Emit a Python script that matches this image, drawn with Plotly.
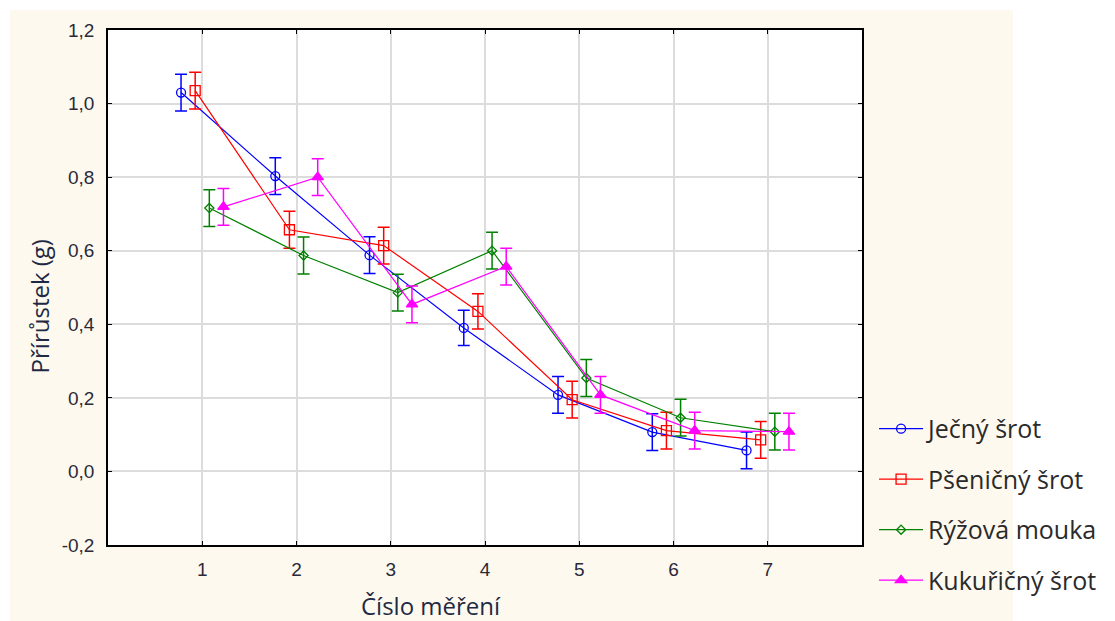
import plotly.graph_objects as go

measurements = [1, 2, 3, 4, 5, 6, 7]
series_names = ["Ječný šrot", "Pšeničný šrot", "Rýžová mouka", "Kukuřičný šrot"]

jecny = [1.03, 0.803, 0.588, 0.39, 0.208, 0.107, 0.057]
psenicny = [1.035, 0.657, 0.614, 0.435, 0.195, 0.111, 0.086]
ryzova = [0.716, 0.587, 0.486, 0.600, 0.254, 0.146, 0.108]
kukuricny = [0.719, 0.800, 0.454, 0.557, 0.208, 0.111, 0.108]

jecny_err = [0.05, 0.05, 0.05, 0.048, 0.05, 0.05, 0.05]
psenicny_err = [0.05, 0.05, 0.05, 0.048, 0.05, 0.05, 0.05]
ryzova_err = [0.05, 0.05, 0.05, 0.05, 0.05, 0.05, 0.05]
kukuricny_err = [0.05, 0.05, 0.05, 0.05, 0.05, 0.05, 0.05]

y_ticks = [-0.2, 0.0, 0.2, 0.4, 0.6, 0.8, 1.0, 1.2]
y_tick_labels = ["-0,2", "0,0", "0,2", "0,4", "0,6", "0,8", "1,0", "1,2"]

values = [jecny, psenicny, ryzova, kukuricny]
errors = [jecny_err, psenicny_err, ryzova_err, kukuricny_err]
offsets = [-0.225, -0.075, 0.075, 0.225]
colors = ["#0000ff", "#ff0000", "#008000", "#ff00ff"]
symbols = ["circle-open", "square-open", "diamond-open", "triangle-up"]
sizes = [9, 10, 7, 10]

fig = go.Figure()
for name, vals, errs, off, col, sym, sz in zip(series_names, values, errors, offsets, colors, symbols, sizes):
    fig.add_trace(go.Scatter(
        x=[m + off for m in measurements], y=vals, name=name, legendgroup=name,
        mode="lines+markers",
        line=dict(color=col, width=1.2),
        marker=dict(symbol=sym, size=sz, color=col, line=dict(color=col, width=1.3)),
        error_y=dict(type="data", array=errs, visible=True, color=col, thickness=1.5, width=6),
    ))

axis_font = dict(family="Liberation Sans, Arial", size=19, color="#2a2a3a")
title_font = dict(family="Open Sans", size=24, color="#1e2a44")

# plot area target: x 108..862, y 27..545 (page has 8px body offset)
fig.update_layout(
    width=1115, height=621,
    margin=dict(l=100, r=261, t=19, b=84),
    paper_bgcolor="#ffffff",
    plot_bgcolor="#ffffff",
    showlegend=True,
    legend=dict(x=1.016, y=0.27, xanchor="left", yanchor="top",
                font=dict(family="Open Sans", size=25, color="#2a2a2a"),
                tracegroupgap=15, bgcolor="rgba(0,0,0,0)", itemwidth=44),
    shapes=[dict(type="rect", xref="paper", yref="paper", layer="below",
                 x0=(10 - 108) / 754, x1=(1013 - 108) / 754,
                 y0=(545 - 640) / 518, y1=(545 - 7) / 518,
                 fillcolor="#fef9ee", line=dict(width=0)),
            dict(type="rect", xref="paper", yref="paper", layer="below",
                 x0=0, x1=1, y0=0, y1=1,
                 fillcolor="#ffffff", line=dict(width=0))],
    annotations=[
        dict(text="Číslo měření", xref="paper", yref="paper",
             x=(431 - 108) / 754, y=(545 - 606) / 518, xanchor="center", yanchor="middle",
             showarrow=False, font=title_font),
        dict(text="Přírůstek (g)", xref="paper", yref="paper",
             x=(39 - 108) / 754, y=(545 - 305) / 518, xanchor="center", yanchor="middle",
             textangle=-90, showarrow=False, font=title_font),
    ],
)

fig.update_xaxes(
    range=[0, 8], tickvals=measurements, ticktext=[str(m) for m in measurements],
    showgrid=True, gridcolor="#dcdcdc", gridwidth=1.5,
    showline=True, linecolor="#000000", linewidth=1.5, mirror="ticks",
    ticks="inside", ticklen=4, tickcolor="#000000",
    tickfont=axis_font, zeroline=False, ticklabelstandoff=6,
)
fig.update_yaxes(
    range=[-0.2, 1.2], tickvals=y_ticks, ticktext=y_tick_labels,
    showgrid=True, gridcolor="#dcdcdc", gridwidth=1.5,
    showline=True, linecolor="#000000", linewidth=1.5, mirror="ticks",
    ticks="inside", ticklen=4, tickcolor="#000000",
    tickfont=axis_font, zeroline=False, ticklabelstandoff=8,
)

fig.write_html("out.html")
